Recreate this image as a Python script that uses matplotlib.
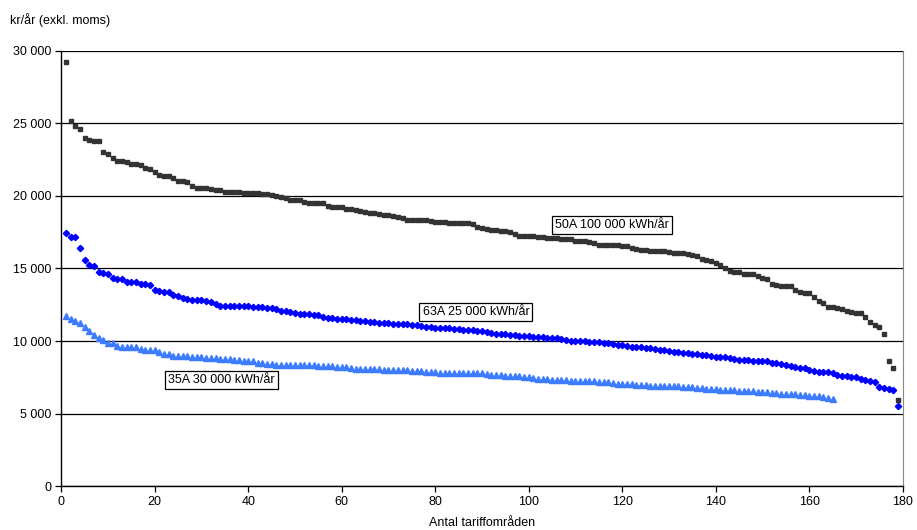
import numpy as np
from matplotlib import pyplot as plt
from matplotlib.ticker import FuncFormatter

plt.rcParams['font.family'] = ['Liberation Sans', 'DejaVu Sans']

# 50A 100 000 kWh/år, sorted, one value per tariff area
v50 = [29260, 25170, 24830, 24620, 23980, 23860, 23790, 23790, 23010, 22920,
       22640, 22430, 22430, 22340, 22230, 22230, 22160, 21950, 21840, 21680,
       21450, 21400, 21350, 21260, 21030, 21030, 20990, 20680, 20570, 20570,
       20570, 20480, 20390, 20390, 20250, 20250, 20250, 20250, 20180, 20180,
       20180, 20180, 20140, 20140, 20070, 20020, 19950, 19840, 19750, 19720,
       19720, 19610, 19540, 19490, 19490, 19490, 19310, 19220, 19220, 19220,
       19130, 19130, 19060, 18990, 18920, 18850, 18850, 18780, 18710, 18710,
       18640, 18575, 18510, 18370, 18370, 18370, 18370, 18370, 18300, 18230,
       18230, 18180, 18160, 18115, 18115, 18115, 18115, 18050, 17885, 17770,
       17700, 17680, 17655, 17610, 17560, 17520, 17380, 17240, 17240, 17240,
       17220, 17170, 17150, 17080, 17080, 17080, 17030, 17010, 17010, 16900,
       16870, 16870, 16850, 16780, 16640, 16640, 16640, 16600, 16600, 16550,
       16530, 16440, 16370, 16300, 16280, 16230, 16230, 16230, 16210, 16120,
       16090, 16090, 16050, 16000, 15950, 15890, 15660, 15560, 15520, 15400,
       15220, 15010, 14830, 14780, 14780, 14640, 14620, 14620, 14460, 14370,
       14280, 13950, 13860, 13820, 13820, 13790, 13490, 13380, 13330, 13290,
       13030, 12740, 12640, 12370, 12320, 12250, 12180, 12090, 12020, 11950,
       11910, 11630, 11310, 11100, 10940, 10460, 8640, 8160, 5930]

# 63A 25 000 kWh/år
v63 = [17425, 17196, 17196, 16414, 15586, 15242, 15150, 14736, 14690, 14598,
       14322, 14299, 14253, 14092, 14092, 14046, 13954, 13908, 13839, 13540,
       13448, 13402, 13402, 13195, 13103, 12943, 12897, 12851, 12828, 12805,
       12759, 12713, 12529, 12437, 12437, 12437, 12414, 12414, 12414, 12414,
       12345, 12345, 12322, 12253, 12253, 12184, 12092, 12069, 11999, 11908,
       11885, 11885, 11862, 11793, 11770, 11632, 11563, 11563, 11517, 11517,
       11517, 11471, 11471, 11402, 11379, 11333, 11310, 11264, 11264, 11218,
       11195, 11195, 11172, 11149, 11103, 11080, 11011, 10965, 10942, 10919,
       10896, 10896, 10873, 10827, 10804, 10781, 10758, 10735, 10712, 10689,
       10597, 10528, 10505, 10482, 10459, 10436, 10390, 10367, 10367, 10321,
       10275, 10275, 10252, 10229, 10206, 10183, 10114, 10045, 10022, 10022,
       9999, 9976, 9954, 9908, 9908, 9885, 9839, 9793, 9724, 9700,
       9655, 9610, 9610, 9565, 9540, 9495, 9450, 9380, 9355, 9335,
       9265, 9220, 9195, 9150, 9105, 9105, 9055, 9010, 8965, 8920,
       8920, 8895, 8850, 8780, 8710, 8690, 8665, 8645, 8620, 8620,
       8620, 8460, 8460, 8415, 8365, 8300, 8230, 8160, 8115, 8000,
       7930, 7885, 7860, 7840, 7770, 7655, 7610, 7585, 7540, 7495,
       7355, 7285, 7240, 7195, 6805, 6735, 6710, 6620, 5515]

# 35A 30 000 kWh/år
v35 = [11747, 11494, 11356, 11264, 10989, 10713, 10414, 10184, 10069, 9885,
       9839, 9678, 9609, 9609, 9563, 9563, 9425, 9379, 9379, 9356,
       9218, 9126, 9126, 8989, 8989, 8989, 8943, 8897, 8897, 8897,
       8851, 8828, 8805, 8759, 8759, 8736, 8667, 8667, 8644, 8598,
       8598, 8506, 8460, 8414, 8414, 8368, 8368, 8322, 8322, 8322,
       8322, 8322, 8322, 8322, 8299, 8253, 8253, 8253, 8207, 8207,
       8184, 8137, 8091, 8091, 8069, 8069, 8069, 8046, 8023, 8000,
       7977, 7977, 7977, 7977, 7954, 7954, 7908, 7839, 7839, 7839,
       7816, 7816, 7816, 7816, 7816, 7816, 7816, 7816, 7793, 7793,
       7724, 7678, 7678, 7655, 7609, 7586, 7586, 7563, 7540, 7540,
       7425, 7402, 7402, 7356, 7310, 7310, 7287, 7287, 7264, 7264,
       7241, 7241, 7218, 7218, 7195, 7172, 7172, 7103, 7034, 7030,
       7010, 7010, 7000, 6965, 6940, 6920, 6920, 6895, 6895, 6895,
       6895, 6875, 6850, 6825, 6805, 6780, 6735, 6710, 6690, 6665,
       6620, 6620, 6620, 6595, 6575, 6550, 6550, 6530, 6505, 6480,
       6460, 6390, 6390, 6365, 6345, 6345, 6320, 6275, 6250, 6205,
       6205, 6185, 6135, 6090, 5975]

labels = ['50A 100 000 kWh/år', '63A 25 000 kWh/år', '35A 30 000 kWh/år']

fig = plt.figure(figsize=(9.17, 5.30), dpi=100)
ax = fig.add_axes([0.0668, 0.083, 0.9176, 0.8208])

x50 = np.arange(1, len(v50) + 1)
x63 = np.arange(1, len(v63) + 1)
x35 = np.arange(1, len(v35) + 1)

ax.plot(x50, v50, ls='none', marker='s', ms=3.2, color='#333333', mec='#333333', zorder=3)
ax.plot(x63, v63, ls='none', marker='D', ms=3.2, color='#0000ff', mec='#0000ff', zorder=3)
ax.plot(x35, v35, ls='none', marker='^', ms=4.0, color='#3d7cff', mec='#3d7cff', zorder=3)

ax.set_xlim(0, 180)
ax.set_ylim(0, 30000)
ax.set_xticks(np.arange(0, 181, 20))
ax.set_yticks(np.arange(0, 30001, 5000))
ax.yaxis.set_major_formatter(FuncFormatter(lambda v, p: f'{int(v):,}'.replace(',', ' ')))
ax.grid(axis='y', color='black', lw=0.9)
ax.set_axisbelow(True)
ax.tick_params(labelsize=9, length=4, width=0.9, color='black', pad=3)
for s in ['left', 'bottom']:
    ax.spines[s].set_color('black')
    ax.spines[s].set_linewidth(1.0)
ax.spines['right'].set_color('#888888')
ax.spines['top'].set_visible(False)

box = dict(boxstyle='square,pad=0.25', fc='white', ec='black', lw=0.9)
ax.text(117.9, 18000, labels[0], fontsize=9, ha='center', va='center', bbox=box, zorder=4)
ax.text(88.7, 12000, labels[1], fontsize=9, ha='center', va='center', bbox=box, zorder=4)
ax.text(34.2, 7300, labels[2], fontsize=9, ha='center', va='center', bbox=box, zorder=4)

fig.text(10 / 917, 1 - 20 / 530, 'kr/år (exkl. moms)', fontsize=9, ha='left', va='center')
fig.text(482 / 917, 1 - 523 / 530, 'Antal tariffområden', fontsize=9, ha='center', va='center')

fig.savefig('out.png', dpi=100)
